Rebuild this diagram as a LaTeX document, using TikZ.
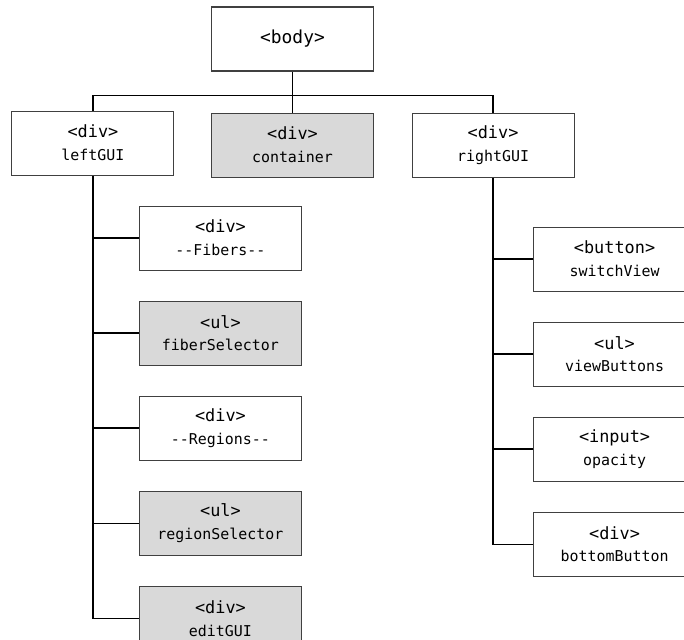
\documentclass[tikz,border=0pt]{standalone}
\usepackage{fontspec}
\setmonofont{DejaVu Sans Mono}
\usepackage{tikz}
\usetikzlibrary{positioning}

\definecolor{boxgray}{HTML}{D9D9D9}
\newcommand{\elname}[1]{{\fontsize{8.5}{13}\selectfont #1}}

\tikzset{
	elbox/.style={draw=black!75, line width=0.6pt, fill=white, minimum width=3.24cm, minimum height=1.28cm, inner sep=0pt, align=center, font=\ttfamily\fontsize{9.6}{13}\selectfont},
	grayed/.style={elbox, fill=boxgray},
	link/.style={draw=black, line width=0.85pt}
}

\begin{document}
\begin{tikzpicture}
		\clip (-5.85,0.78) rectangle (7.83,-12.02);
		\node[elbox, font=\ttfamily\fontsize{10.2}{13}\selectfont] (body) at (0,0) {<body>};
		\node[grayed] (container) [below = 0.82cm of body] {<div>\\\elname{container}};
		\node[elbox] (leftGUI) [left = 0.73cm of container, yshift=0.04cm] {<div>\\\elname{leftGUI}};
		\node[elbox] (rightGUI) [right = 0.75cm of container] {<div>\\\elname{rightGUI}};
		\coordinate[below = 0.48cm of body] (bus);
		
		% left column
		\node[elbox] (fibers) [below = 0.6cm of leftGUI, xshift=2.55cm] {<div>\\\elname{-{}-Fibers-{}-}};
		\node[grayed] (fiberSelector) [below = 0.6cm of fibers] {<ul>\\\elname{fiberSelector}};
		\node[elbox] (regions) [below = 0.6cm of fiberSelector] {<div>\\\elname{-{}-Regions-{}-}};
		\node[grayed] (regionSelector) [below = 0.6cm of regions] {<ul>\\\elname{regionSelector}};
		\node[grayed] (editGUI) [below = 0.6cm of regionSelector] {<div>\\\elname{editGUI}};
		
		% right column
		\node[elbox] (switchView) [below = 0.98cm of rightGUI, xshift=2.43cm] {<button>\\\elname{switchView}};
		\node[elbox] (viewButtons) [below = 0.6cm of switchView] {<ul>\\\elname{viewButtons}};
		\node[elbox] (opacity) [below = 0.6cm of viewButtons] {<input>\\\elname{opacity}};
		\node[elbox] (bottomButton) [below = 0.6cm of opacity] {<div>\\\elname{bottomButton}};
		
		\draw[link] (body) -- (container) ;
		\draw[link] (leftGUI.north) |- (bus) -| (rightGUI.north) ;
		
		\draw[link] (leftGUI.south) |- (editGUI.west) ;
		\draw[link] (fibers.west) -- (fibers.west -| leftGUI.south) ;
		\draw[link] (fiberSelector.west) -- (fiberSelector.west -| leftGUI.south) ;
		\draw[link] (regions.west) -- (regions.west -| leftGUI.south) ;
		\draw[link] (regionSelector.west) -- (regionSelector.west -| leftGUI.south) ;
		
		\draw[link] (rightGUI.south) |- (bottomButton.west) ;
		\draw[link] (switchView.west) -- (switchView.west -| rightGUI.south) ;
		\draw[link] (viewButtons.west) -- (viewButtons.west -| rightGUI.south) ;
		\draw[link] (opacity.west) -- (opacity.west -| rightGUI.south) ;
	\end{tikzpicture}
\end{document}
